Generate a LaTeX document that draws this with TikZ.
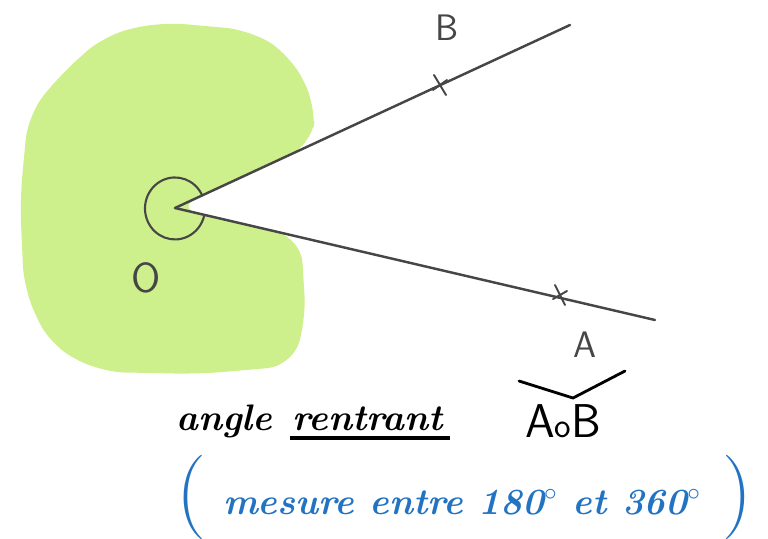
\documentclass[tikz,border=0pt]{standalone}
\usepackage{amsmath}
\usepackage{tikz}
\usetikzlibrary{calc}

\definecolor{crayon}{RGB}{206,240,140}
\definecolor{pencil}{RGB}{70,70,70}
\definecolor{stylo}{RGB}{35,115,195}
\tikzset{
  pencil/.style={draw=pencil,line width=1.4pt,line cap=round},
  cross/.style={draw=pencil,line width=1.1pt,line cap=round},
  ecrit/.style={inner sep=0pt,font=\fontsize{21}{24}\selectfont\bfseries\itshape},
  lettre/.style={inner sep=0pt,text=pencil,font=\fontsize{21}{24}\selectfont\sffamily}
}

\begin{document}
\begin{tikzpicture}[x=0.02cm,y=-0.02cm]
  \useasboundingbox (0,0) rectangle (768,538);
  \coordinate (O) at (175,208);
  \coordinate (Bend) at (570,25);
  \coordinate (Aend) at (655,320);
  \coordinate (B) at (440,85);
  \coordinate (A) at (560,295);
  % the green reflex region
  \fill[crayon,rounded corners=14] (O) -- (312,145) -- (316,105) -- (290,55)
    -- (250,30) -- (160,22) -- (105,35) -- (60,75) -- (28,115) -- (20,200)
    -- (24,290) -- (50,345) -- (100,372) -- (200,374) -- (292,366)
    -- (306,320) -- (301,238) -- cycle;
  \draw[pencil] (O) -- (Bend);
  \draw[pencil] (O) -- (Aend);
  \draw[pencil,line width=1.2pt] (202.2,195.4) arc[start angle=24.9,end angle=346.9,x radius=0.6cm,y radius=0.62cm];
  \draw[cross] (B) ++(-6,-10) -- ++(12,20) (B) ++(-7,5) -- ++(14,-10);
  \draw[cross] (A) ++(-5,-10) -- ++(10,20) (A) ++(-7,4) -- ++(14,-8);
  \node[lettre] (labB) at (447,28) {B};
  \node[lettre] (labA) at (585,345) {A};
  \node[lettre,font=\fontsize{24}{26}\selectfont\sffamily] (labO) at (146,278) {O};
  % notation
  \node[ecrit,anchor=base west] (angle) at (176,430) {angle};
  \node[ecrit,anchor=base west] (rentrant) at (292,430) {rentrant};
  \draw[line width=1.8pt] (290,438) -- (450,438);
  \node[inner sep=0pt,font=\fontsize{27}{30}\selectfont\sffamily] (AoB) at (563,421) {A{\fontsize{20}{24}\selectfont o}B};
  \draw[line width=1.6pt,line cap=round] (519,381) -- (573,398) -- (625,371);
  \node[ecrit,text=stylo,anchor=base] (mesure) at (462,514) {mesure entre 180$^\circ$ et 360$^\circ$};
  \node[inner sep=0pt,text=stylo,font=\fontsize{48}{50}\selectfont] (po) at (191,497) {(};
  \node[inner sep=0pt,text=stylo,font=\fontsize{48}{50}\selectfont] (pf) at (737,497) {)};
\end{tikzpicture}
\end{document}
